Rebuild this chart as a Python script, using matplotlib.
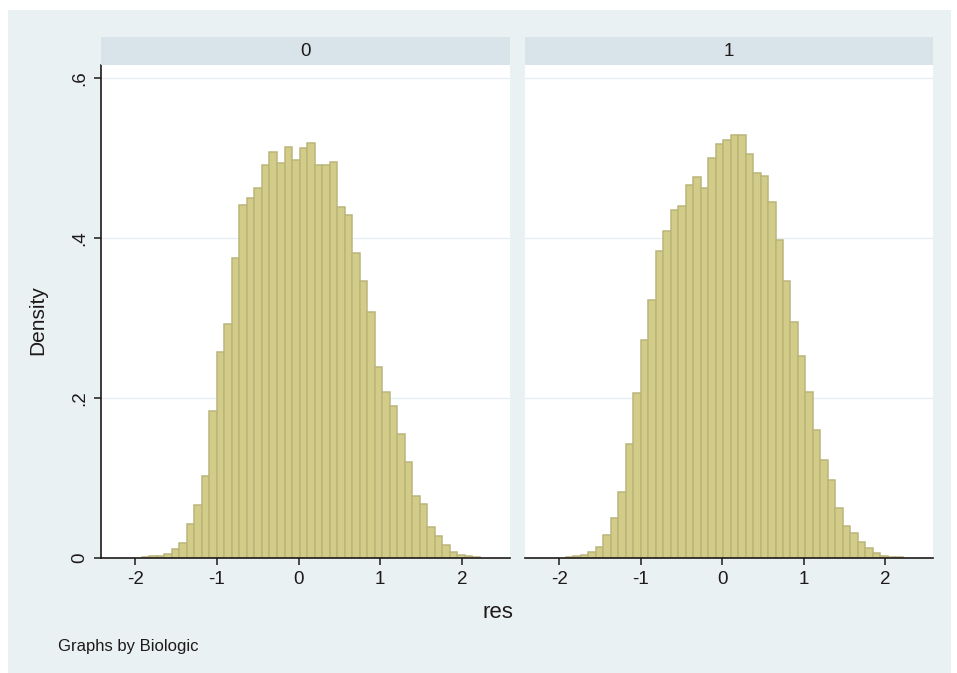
import numpy as np
import matplotlib.pyplot as plt
from matplotlib.patches import Rectangle

# histogram bins (common to both groups)
bin_start = -1.92
bin_width = 0.092

# densities per bin, Biologic = 0
dens_0 = [0.001, 0.002, 0.003, 0.005, 0.011, 0.019, 0.0425, 0.066, 0.103, 0.184,
          0.257, 0.2925, 0.375, 0.441, 0.45, 0.462, 0.491, 0.507, 0.493, 0.514,
          0.4975, 0.512, 0.518, 0.491, 0.491, 0.495, 0.438, 0.428, 0.381, 0.346,
          0.307, 0.239, 0.207, 0.19, 0.155, 0.12, 0.078, 0.0675, 0.039,
          0.0275, 0.016, 0.008, 0.004, 0.002, 0.001]

# densities per bin, Biologic = 1
dens_1 = [0.001, 0.002, 0.004, 0.008, 0.014, 0.029, 0.05, 0.083, 0.143, 0.206,
          0.2725, 0.3225, 0.383, 0.409, 0.435, 0.44, 0.466, 0.476, 0.462, 0.5,
          0.5175, 0.5225, 0.528, 0.528, 0.505, 0.481, 0.477, 0.445, 0.3975, 0.346,
          0.295, 0.252, 0.207, 0.16, 0.123, 0.0975, 0.062, 0.04, 0.031,
          0.02, 0.012, 0.0067, 0.003, 0.0015, 0.001]

groups = ["0", "1"]
x_ticks = [-2, -1, 0, 1, 2]
y_ticks = [0, 0.2, 0.4, 0.6]
y_tick_labels = ["0", ".2", ".4", ".6"]

plt.rcParams['font.family'] = ['Liberation Sans', 'DejaVu Sans']

W, H = 957, 673
bg = '#eaf1f3'
strip_col = '#d8e4ea'
grid_col = '#e6eff3'
bar_fill = '#d3cb88'
bar_edge = '#bab57a'
ink = '#1e1a1a'

fig = plt.figure(figsize=(W / 100, H / 100), dpi=100)
fig.patch.set_facecolor('white')
fig.patches.append(Rectangle((8 / W, 0), (W - 14) / W, (H - 10) / H,
                             transform=fig.transFigure, facecolor=bg,
                             edgecolor='none', zorder=-10))


def px_axes(left, top, right, bottom):
    return fig.add_axes([left / W, 1 - bottom / H, (right - left) / W, (bottom - top) / H])


panels = [(101, 510, dens_0), (525, 933, dens_1)]
edges = bin_start + bin_width * np.arange(len(dens_0))

for i, (left, right, dens) in enumerate(panels):
    ax = px_axes(left, 65, right, 558)
    ax.set_facecolor('white')
    ax.bar(edges, dens, width=bin_width, align='edge', color=bar_fill,
           edgecolor=bar_edge, linewidth=1.1, zorder=2)
    ax.set_xlim(-2.42, 2.59)
    ax.set_ylim(0, 0.616)
    for yv in y_ticks[1:]:
        ax.axhline(yv, color=grid_col, lw=1.0, zorder=1)

    for s in ['top', 'right']:
        ax.spines[s].set_visible(False)
    ax.spines['bottom'].set_color(ink)
    ax.spines['bottom'].set_linewidth(1.2)
    ax.set_xticks(x_ticks)
    ax.set_xticklabels([str(t) for t in x_ticks], color=ink)
    ax.tick_params(axis='x', length=5, width=1.1, color=ink, labelsize=13.5, pad=4)

    if i == 0:
        ax.spines['left'].set_color(ink)
        ax.spines['left'].set_linewidth(1.2)
        ax.set_yticks(y_ticks)
        ax.set_yticklabels(y_tick_labels, rotation=90, va='center', color=ink)
        ax.tick_params(axis='y', length=5, width=1.1, color=ink, labelsize=13.5, pad=4)
    else:
        ax.spines['left'].set_visible(False)
        ax.set_yticks([])

    # group strip
    sax = px_axes(left, 37, right, 65)
    sax.set_facecolor(strip_col)
    sax.set_xticks([])
    sax.set_yticks([])
    for s in sax.spines.values():
        s.set_visible(False)
    sax.text(0.5, 0.5, groups[i], ha='center', va='center', fontsize=13.5,
             color=ink, transform=sax.transAxes)

fig.text(38 / W, 1 - 320 / H, "Density", rotation=90, ha='center', va='center',
         fontsize=15, color=ink)
fig.text(498 / W, 1 - 612 / H, "res", ha='center', va='center', fontsize=16, color=ink)
fig.text(58 / W, 1 - 646 / H, "Graphs by Biologic", ha='left', va='center',
         fontsize=12, color=ink)

fig.savefig("out.png", dpi=100, facecolor=fig.get_facecolor())
